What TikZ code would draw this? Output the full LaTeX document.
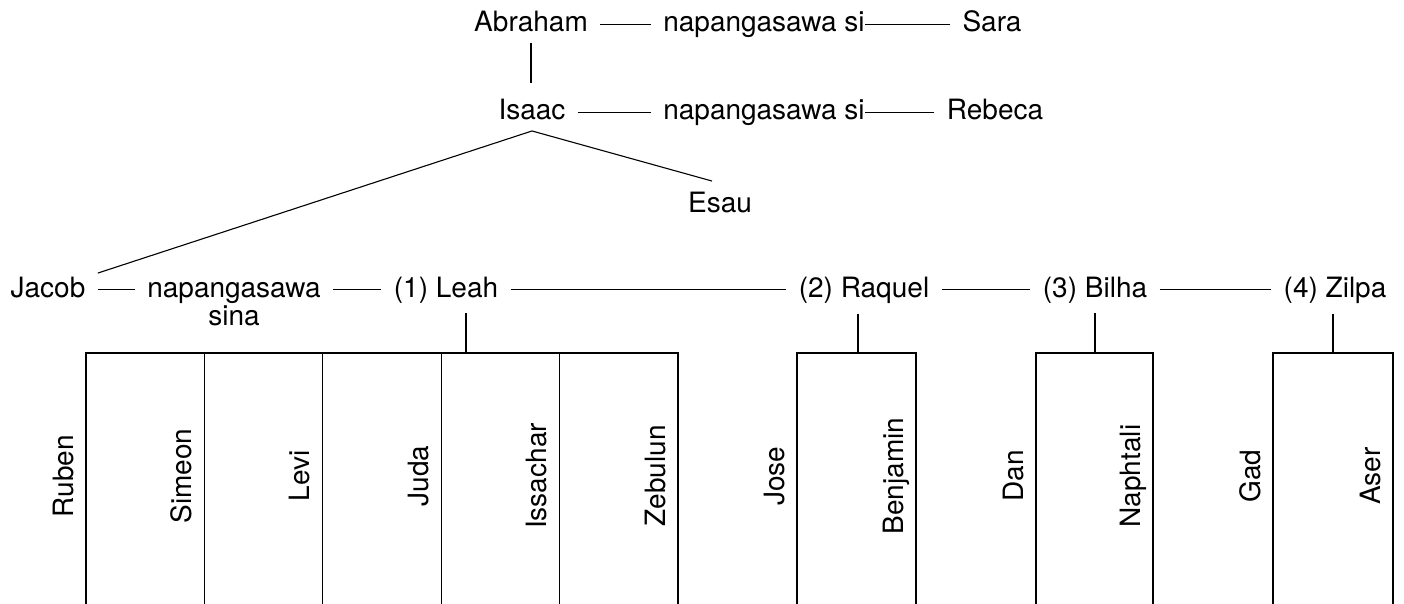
\documentclass[tikz,border=0pt]{standalone}
\usepackage{fontspec}
\setmainfont{TeX Gyre Heros}

\begin{document}
\begin{tikzpicture}[x=1pt,y=-1pt,line width=1.1pt,
    person/.style={anchor=base,inner xsep=12pt,inner ysep=10pt},
    son/.style={person,rotate=90,inner sep=0pt}]
  \fontsize{28}{33}\selectfont
  \useasboundingbox (0,0) rectangle (1404,604);

  % Abraham and Isaac
  \node[person] (abraham) at (531,32) {Abraham};
  \node[person] (wed1) at (764,32) {napangasawa si};
  \node[person] (sara) at (992,32) {Sara};
  \node[person] (isaac) at (532,120) {Isaac};
  \node[person] (wed2) at (764,120) {napangasawa si};
  \node[person] (rebeca) at (995,120) {Rebeca};
  \node[person] (esau) at (720,212) {Esau};

  \draw (abraham.mid east) -- (wed1.mid west);
  \draw[shorten <=-12pt] (wed1.mid east) -- (sara.mid west);
  \draw (isaac.mid east) -- (wed2.mid west);
  \draw[shorten <=-12pt] (wed2.mid east) -- (rebeca.mid west);
  \draw[shorten >=6pt] (abraham.south) -- (abraham.south |- isaac.north);

  % Jacob and his wives
  \node[person] (jacob) at (48,297) {Jacob};
  \node[person] (wed3) at (234,297) {napangasawa};
  \node[person] (wed3b) at (234,325) {sina};
  \node[person] (leah) at (446,297) {(1) Leah};
  \node[person] (raquel) at (864,297) {(2) Raquel};
  \node[person] (bilha) at (1095,297) {(3) Bilha};
  \node[person] (zilpa) at (1335,297) {(4) Zilpa};

  \draw ([yshift=-7pt]jacob.north east) -- (isaac.south) -- ([xshift=-8pt]esau.north);
  \draw (jacob.mid east) -- (wed3.mid west);
  \draw (wed3.mid east) -- (leah.mid west);
  \draw (leah.mid east) -- (raquel.mid west);
  \draw (raquel.mid east) -- (bilha.mid west);
  \draw (bilha.mid east) -- (zilpa.mid west);

  % drops to the sons
  \coordinate (leahbar) at (466,353);
  \coordinate (raquelbar) at (858,353);
  \coordinate (bilhabar) at (1095,353);
  \coordinate (zilpabar) at (1333,353);
  \foreach \w in {leah,raquel,bilha,zilpa}
    \draw (\w bar |- \w.south) -- (\w bar);

  \draw (86,604) |- (678,353) -- (678,604);
  \foreach \x in {204.4,322.8,441.2,559.6}
    \draw (\x,353) -- (\x,604);
  \draw (797,604) |- (916,353) -- (916,604);
  \draw (1036,604) |- (1153,353) -- (1153,604);
  \draw (1273,604) |- (1393,353) -- (1393,604);

  % the sons
  \foreach \s/\x in {Ruben/86,Simeon/204.4,Levi/322.8,Juda/441.2,Issachar/559.6,Zebulun/678,
                     Jose/797,Benjamin/916,Dan/1036,Naphtali/1153,Gad/1273,Aser/1393}
    \node[son] (son-\s) at (\x-13,476) {\s};
\end{tikzpicture}
\end{document}
